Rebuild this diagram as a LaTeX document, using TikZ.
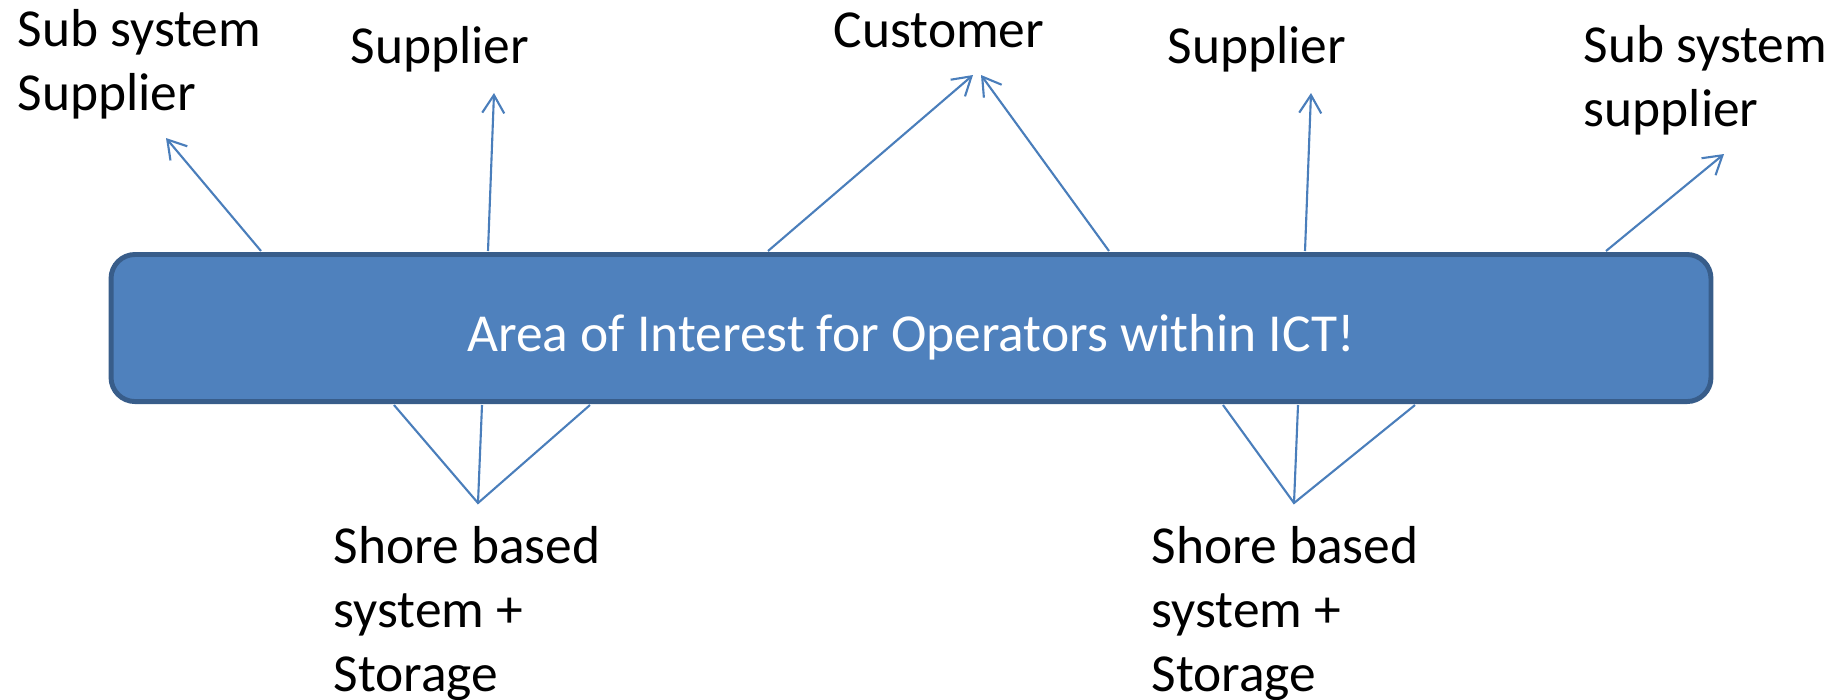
\documentclass[tikz,border=0pt]{standalone}
\usepackage{fontspec}
\setmainfont{Carlito}
\usetikzlibrary{arrows.meta}

\definecolor{boxfill}{HTML}{4F81BD}
\definecolor{boxline}{HTML}{385D8A}
\definecolor{linkblue}{HTML}{4A7EBB}

\tikzset{
  party/.style={anchor=base west, inner sep=0pt, align=left,
    font=\fontsize{15.2}{18.1}\selectfont},
  link/.style={draw=linkblue, line width=0.6pt},
  uplink/.style={link, -{Straight Barb[length=0.18cm, width=0.22cm, line width=0.6pt]}},
}

\begin{document}
\begin{tikzpicture}[x=0.01cm, y=-0.01cm]
\useasboundingbox (0,0) rectangle (1843,699);

\node (aoi) [draw=boxline, fill=boxfill, line width=1.4pt, rounded corners=0.24cm,
  minimum width=15.99cm, minimum height=1.47cm, text=white, text height=13.4pt, text depth=0pt,
  font=\fontsize{15.2}{18.1}\selectfont] at (911,328) {Area of Interest for Operators within ICT!};

\node (o1) [party] at (17,110) {Sub system\\Supplier};
\node (o2) [party] at (350,63) {Supplier};
\node (o3) [party] at (833,47) {Customer};
\node (o4) [party] at (1167,63) {Supplier};
\node (o5) [party] at (1583,126) {Sub system\\supplier};
\node (i1) [party] at (333,691) {Shore based\\system +\\Storage};
\node (i2) [party] at (1151,691) {Shore based\\system +\\Storage};

\coordinate (s1) at (261,251);
\coordinate (s2) at (488,251);
\coordinate (s3) at (768,251);
\coordinate (s4) at (1109,251);
\coordinate (s5) at (1305,251);
\coordinate (s6) at (1606,251);
\coordinate (t1) at (166,138);
\coordinate (t2) at (494,93);
\coordinate (t3) at (973,75);
\coordinate (t4) at (981,75);
\coordinate (t5) at (1311,93);
\coordinate (t6) at (1724,154);

\draw [uplink] (s1) -- (t1);
\draw [uplink] (s2) -- (t2);
\draw [uplink] (s3) -- (t3);
\draw [uplink] (s4) -- (t4);
\draw [uplink] (s5) -- (t5);
\draw [uplink] (s6) -- (t6);

\coordinate (j1) at (478,503);
\coordinate (j2) at (1294,503);
\coordinate (b1) at (394,405);
\coordinate (b2) at (482,405);
\coordinate (b3) at (590,405);
\coordinate (b4) at (1223,405);
\coordinate (b5) at (1298,405);
\coordinate (b6) at (1415,405);

\draw [link] (b1) -- (j1) -- (b3);
\draw [link] (b2) -- (j1);
\draw [link] (b4) -- (j2) -- (b6);
\draw [link] (b5) -- (j2);
\end{tikzpicture}
\end{document}
